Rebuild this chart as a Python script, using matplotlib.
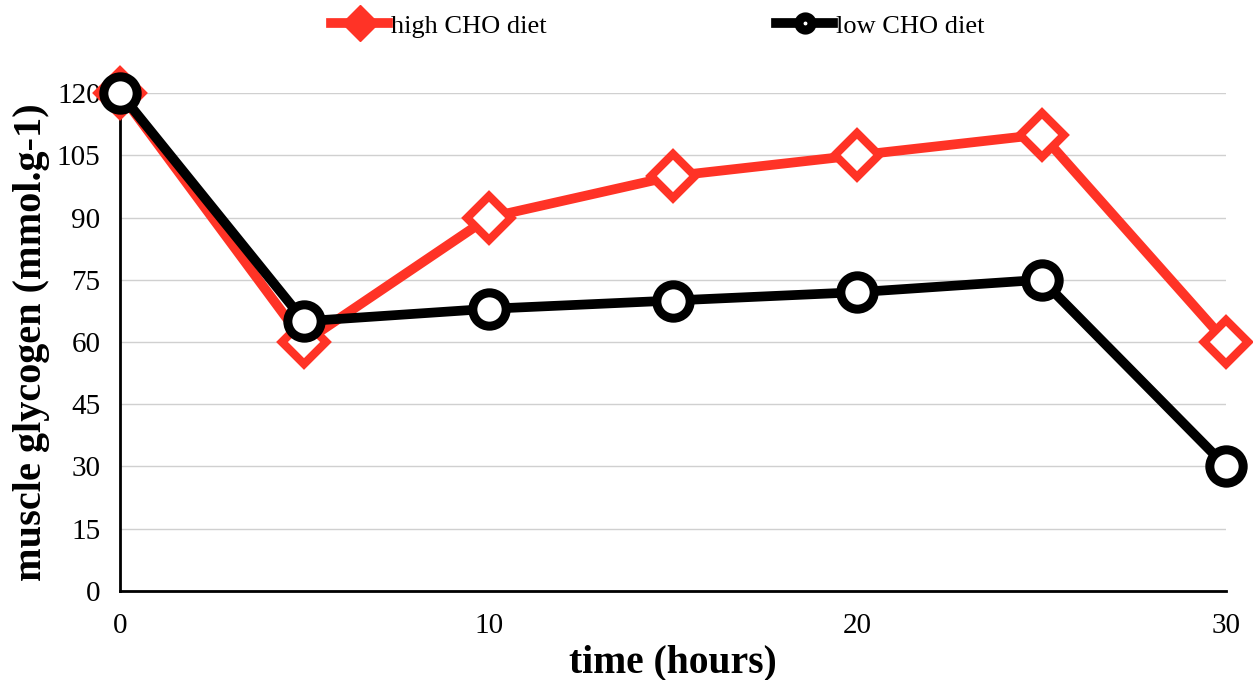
import numpy as np
import matplotlib.pyplot as plt
from matplotlib.lines import Line2D

plt.rcParams['font.family'] = ['Liberation Serif', 'DejaVu Serif']

hours = [0, 5, 10, 15, 20, 25, 30]
high_cho = [120, 60, 90, 100, 105, 110, 60]
low_cho = [120, 65, 68, 70, 72, 75, 30]

red = '#ff3326'

fig = plt.figure(figsize=(12.53, 6.8), dpi=100)
ax = fig.add_axes([0.0958, 0.1309, 0.8827, 0.7323])

ax.plot(hours, high_cho, color=red, lw=7, marker='D', ms=22,
        mfc='white', mec=red, mew=6, clip_on=False, zorder=3)
ax.plot(hours, low_cho, color='black', lw=7, marker='o', ms=24,
        mfc='white', mec='black', mew=6.5, clip_on=False, zorder=4)

ax.set_xlim(0, 30)
ax.set_ylim(0, 120)
ax.set_yticks(np.arange(0, 121, 15))
ax.set_xticks([0, 10, 20, 30])
ax.grid(axis='y', color='#d0d0d0', lw=1)
ax.set_axisbelow(True)
for s in ['top', 'right']:
    ax.spines[s].set_visible(False)
ax.spines['left'].set_linewidth(2)
ax.spines['bottom'].set_linewidth(2)
ax.tick_params(length=0, labelsize=21, pad=14)
ax.tick_params(axis='x', pad=16)

ax.set_xlabel('time (hours)', fontsize=28.5, fontweight='bold', labelpad=4)
ax.set_ylabel('muscle glycogen (mmol.g-1)', fontsize=29, fontweight='bold', labelpad=5)

# legend handles: solid markers on a short line (low CHO with a small hole)
h_high = Line2D([], [], color=red, lw=7, marker='D', ms=18, mfc=red, mec=red)
h_low = Line2D([], [], color='black', lw=7, marker='o', ms=9.5, mfc='white',
               mec='black', mew=6.5)
fig.legend([h_high, h_low], ['high CHO diet', 'low CHO diet'],
           loc='center', bbox_to_anchor=(0.525, 0.962), ncol=2,
           frameon=False, fontsize=19, columnspacing=8.7, handlelength=2.16,
           handletextpad=0.1)

fig.savefig('out.png', dpi=100)
